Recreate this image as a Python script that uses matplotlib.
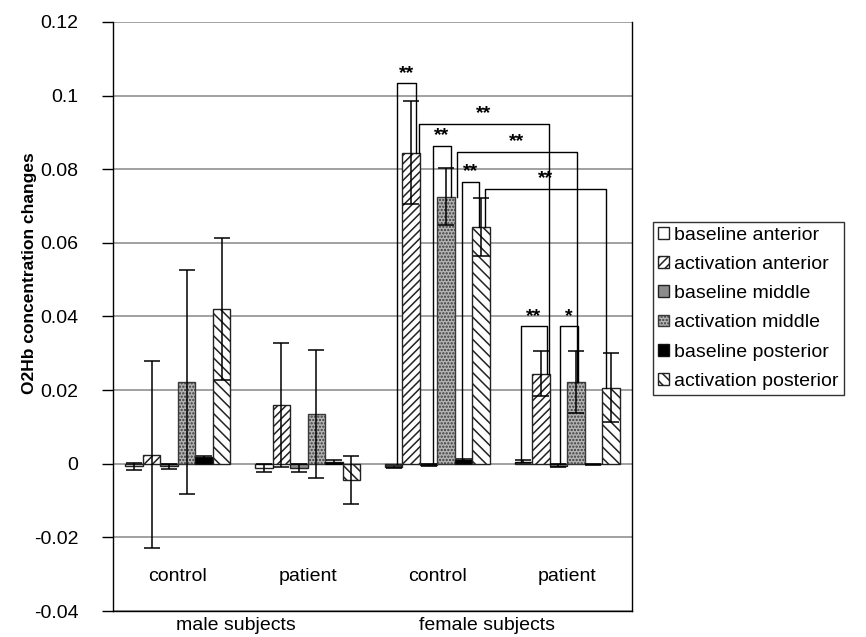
import numpy as np
import matplotlib
matplotlib.use("Agg")
import matplotlib.pyplot as plt
from matplotlib.patches import Patch

plt.rcParams["font.family"] = ["Liberation Sans", "DejaVu Sans"]
plt.rcParams["hatch.linewidth"] = 1.1

# categories
CATEGORIES = ["control", "patient", "control", "patient"]
GROUPS = ["male subjects", "female subjects"]
GROUP_POS = [0.45, 2.38]
SERIES = ["baseline anterior", "activation anterior", "baseline middle",
          "activation middle", "baseline posterior", "activation posterior"]

# mean values per series (male control, male patient, female control, female patient)
BASE_ANT = [-0.0007, -0.0012, -0.0008, 0.0006]
ACT_ANT = [0.0025, 0.0160, 0.0845, 0.0245]
BASE_MID = [-0.0007, -0.0012, -0.0004, -0.0005]
ACT_MID = [0.0222, 0.0135, 0.0725, 0.0222]
BASE_POST = [0.0017, 0.0004, 0.0010, -0.0002]
ACT_POST = [0.0420, -0.0045, 0.0643, 0.0207]

# error bars
ERR_BASE_ANT = [0.0009, 0.0010, 0.0003, 0.0003]
ERR_ACT_ANT = [0.0255, 0.0168, 0.0140, 0.0062]
ERR_BASE_MID = [0.0007, 0.0010, 0.0002, 0.0003]
ERR_ACT_MID = [0.0305, 0.0175, 0.0077, 0.0085]
ERR_BASE_POST = [0.0003, 0.0006, 0.0003, 0.0002]
ERR_ACT_POST = [0.0193, 0.0065, 0.0078, 0.0093]

VALUES = [BASE_ANT, ACT_ANT, BASE_MID, ACT_MID, BASE_POST, ACT_POST]
ERRORS = [ERR_BASE_ANT, ERR_ACT_ANT, ERR_BASE_MID, ERR_ACT_MID, ERR_BASE_POST, ERR_ACT_POST]

# significance brackets: (category, series) of each end, bracket height, label
BR_LEFT = [(2, 0), (2, 1), (2, 2), (2, 3), (2, 4), (2, 5), (3, 0), (3, 2)]
BR_RIGHT = [(2, 1), (3, 1), (2, 3), (3, 3), (2, 5), (3, 5), (3, 1), (3, 3)]
BR_TOP = [0.1033, 0.0922, 0.0862, 0.0848, 0.0765, 0.0747, 0.0373, 0.0373]
BR_LABEL = ["**", "**", "**", "**", "**", "**", "**", "*"]
BR_LEFT_DX = [0.03, 0.06, 0.03, 0.08, -0.01, 0.03, -0.02, 0.01]
BR_RIGHT_DX = [0.04, 0.06, 0.04, 0.01, -0.02, -0.04, 0.05, 0.02]

FACE = ["white", "white", "#8c8c8c", "#b4b4b4", "black", "white"]
HATCH = [None, "////", None, ".....", None, "\\\\\\"]
EDGE = ["#222222", "#222222", "#222222", "#3a3a3a", "#111111", "#222222"]

FS = 14

fig = plt.figure(figsize=(8.66, 6.37), dpi=100)
ax = fig.add_axes([0.1305, 0.0408, 0.5993, 0.9247])

x = np.arange(len(CATEGORIES))
width = 0.135
n = len(SERIES)

for j in range(n):
    pos = x + (j - (n - 1) / 2) * width
    ax.bar(pos, VALUES[j], width, color=FACE[j], edgecolor=EDGE[j],
           hatch=HATCH[j], linewidth=1.0, zorder=3, label=SERIES[j])
    ax.errorbar(pos, VALUES[j], yerr=ERRORS[j], fmt="none", ecolor="black",
                elinewidth=1.1, capsize=6, capthick=1.1, zorder=4)

# significance brackets
for k in range(len(BR_TOP)):
    ca, sa = BR_LEFT[k]
    cb, sb = BR_RIGHT[k]
    xa = x[ca] + (sa - (n - 1) / 2) * width + BR_LEFT_DX[k]
    xb = x[cb] + (sb - (n - 1) / 2) * width + BR_RIGHT_DX[k]
    ya = max(VALUES[sa][ca], 0)
    yb = max(VALUES[sb][cb], 0)
    top = BR_TOP[k]
    ax.plot([xa, xa, xb, xb], [ya, top, top, yb], color="black", lw=1.0, zorder=5)
    ax.text((xa + xb) / 2, top + 0.0005, BR_LABEL[k], ha="center", va="bottom",
            fontsize=FS, fontweight="bold", zorder=6)

ax.set_xlim(-0.5, 3.5)
ax.set_ylim(-0.04, 0.12)
ax.set_yticks(np.arange(-0.04, 0.121, 0.02))
ax.set_yticklabels(["-0.04", "-0.02", "0", "0.02", "0.04", "0.06", "0.08", "0.1", "0.12"])
ax.tick_params(axis="y", direction="out", length=8, width=1, pad=17, labelsize=FS)
ax.set_xticks([])
ax.yaxis.grid(True, color="#9a9a9a", lw=1.3, zorder=0)
ax.set_axisbelow(True)

for side in ["left", "right", "bottom"]:
    ax.spines[side].set_color("black")
    ax.spines[side].set_linewidth(1.0)
ax.spines["top"].set_visible(False)

# category labels sit inside the plot area
for i, lab in enumerate(CATEGORIES):
    ax.text(x[i], -0.0305, lab, ha="center", va="center", fontsize=FS)

# outer group labels below the axes
trans = ax.get_xaxis_transform()
for g, lab in enumerate(GROUPS):
    ax.text(GROUP_POS[g], -0.024, lab, ha="center", va="center",
            fontsize=FS, transform=trans)

ax.set_ylabel("O2Hb concentration changes", fontsize=12.5, fontweight="bold")
ax.yaxis.set_label_coords(-0.146, 0.574)

handles = [Patch(facecolor=FACE[j], edgecolor=EDGE[j], hatch=HATCH[j], label=SERIES[j])
           for j in range(n)]
leg = fig.legend(handles=handles, loc="upper left", bbox_to_anchor=(0.754, 0.652),
                 borderaxespad=0, fontsize=FS, frameon=True, fancybox=False,
                 edgecolor="black", handlelength=0.55, handleheight=0.55,
                 handletextpad=0.3, labelspacing=0.63, borderpad=0.25)
leg.get_frame().set_linewidth(1.0)

fig.savefig("out.png", dpi=100)
